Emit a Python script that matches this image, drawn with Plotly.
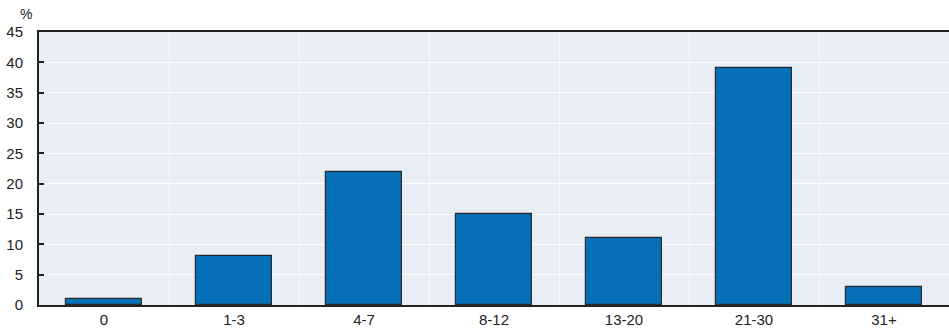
import plotly.graph_objects as go

# Distribution by band (%)
categories = ["0", "1-3", "4-7", "8-12", "13-20", "21-30", "31+"]
shares = [1, 8, 22, 15, 11, 39, 3]
y_ticks = [0, 5, 10, 15, 20, 25, 30, 35, 40, 45]

positions = list(range(len(categories)))
boundaries = [p + 0.5 for p in positions[:-1]]

FONT = "Liberation Sans, Arial, sans-serif"

fig = go.Figure(
    go.Bar(
        x=positions,
        y=shares,
        width=0.59,
        marker=dict(color="#0570b8", line=dict(color="#2b2b2b", width=1.2)),
        hoverinfo="x+y",
    )
)

fig.update_layout(
    width=949,
    height=328,
    margin=dict(l=39, r=0, t=32, b=23),
    paper_bgcolor="white",
    plot_bgcolor="#e8edf6",
    showlegend=False,
    font=dict(family=FONT, size=15, color="#222222"),
    bargap=0,
)

fig.update_xaxes(
    range=[-0.5, len(categories) - 0.5],
    tickmode="array",
    tickvals=positions,
    ticktext=categories,
    showgrid=False,
    ticks="",
    showline=True,
    linecolor="#222222",
    linewidth=2,
    mirror=True,
    zeroline=False,
    tickfont=dict(size=15),
    minor=dict(tickmode="array", tickvals=boundaries, showgrid=True,
               gridcolor="#f7f9fc", gridwidth=1, ticks=""),
)

fig.update_yaxes(
    range=[0, 45],
    tickmode="array",
    tickvals=y_ticks,
    showgrid=True,
    gridcolor="white",
    gridwidth=1,
    ticks="inside",
    ticklen=5,
    tickwidth=1.5,
    tickcolor="#222222",
    showline=True,
    linecolor="#222222",
    linewidth=2,
    zeroline=False,
    ticklabelstandoff=11,
    tickfont=dict(size=15),
)

fig.add_annotation(
    text="%", xref="paper", yref="paper", x=-0.005, y=1.0, yshift=8,
    xanchor="right", yanchor="bottom", showarrow=False,
    font=dict(family=FONT, size=14, color="#222222"),
)

fig.write_html("out.html")
